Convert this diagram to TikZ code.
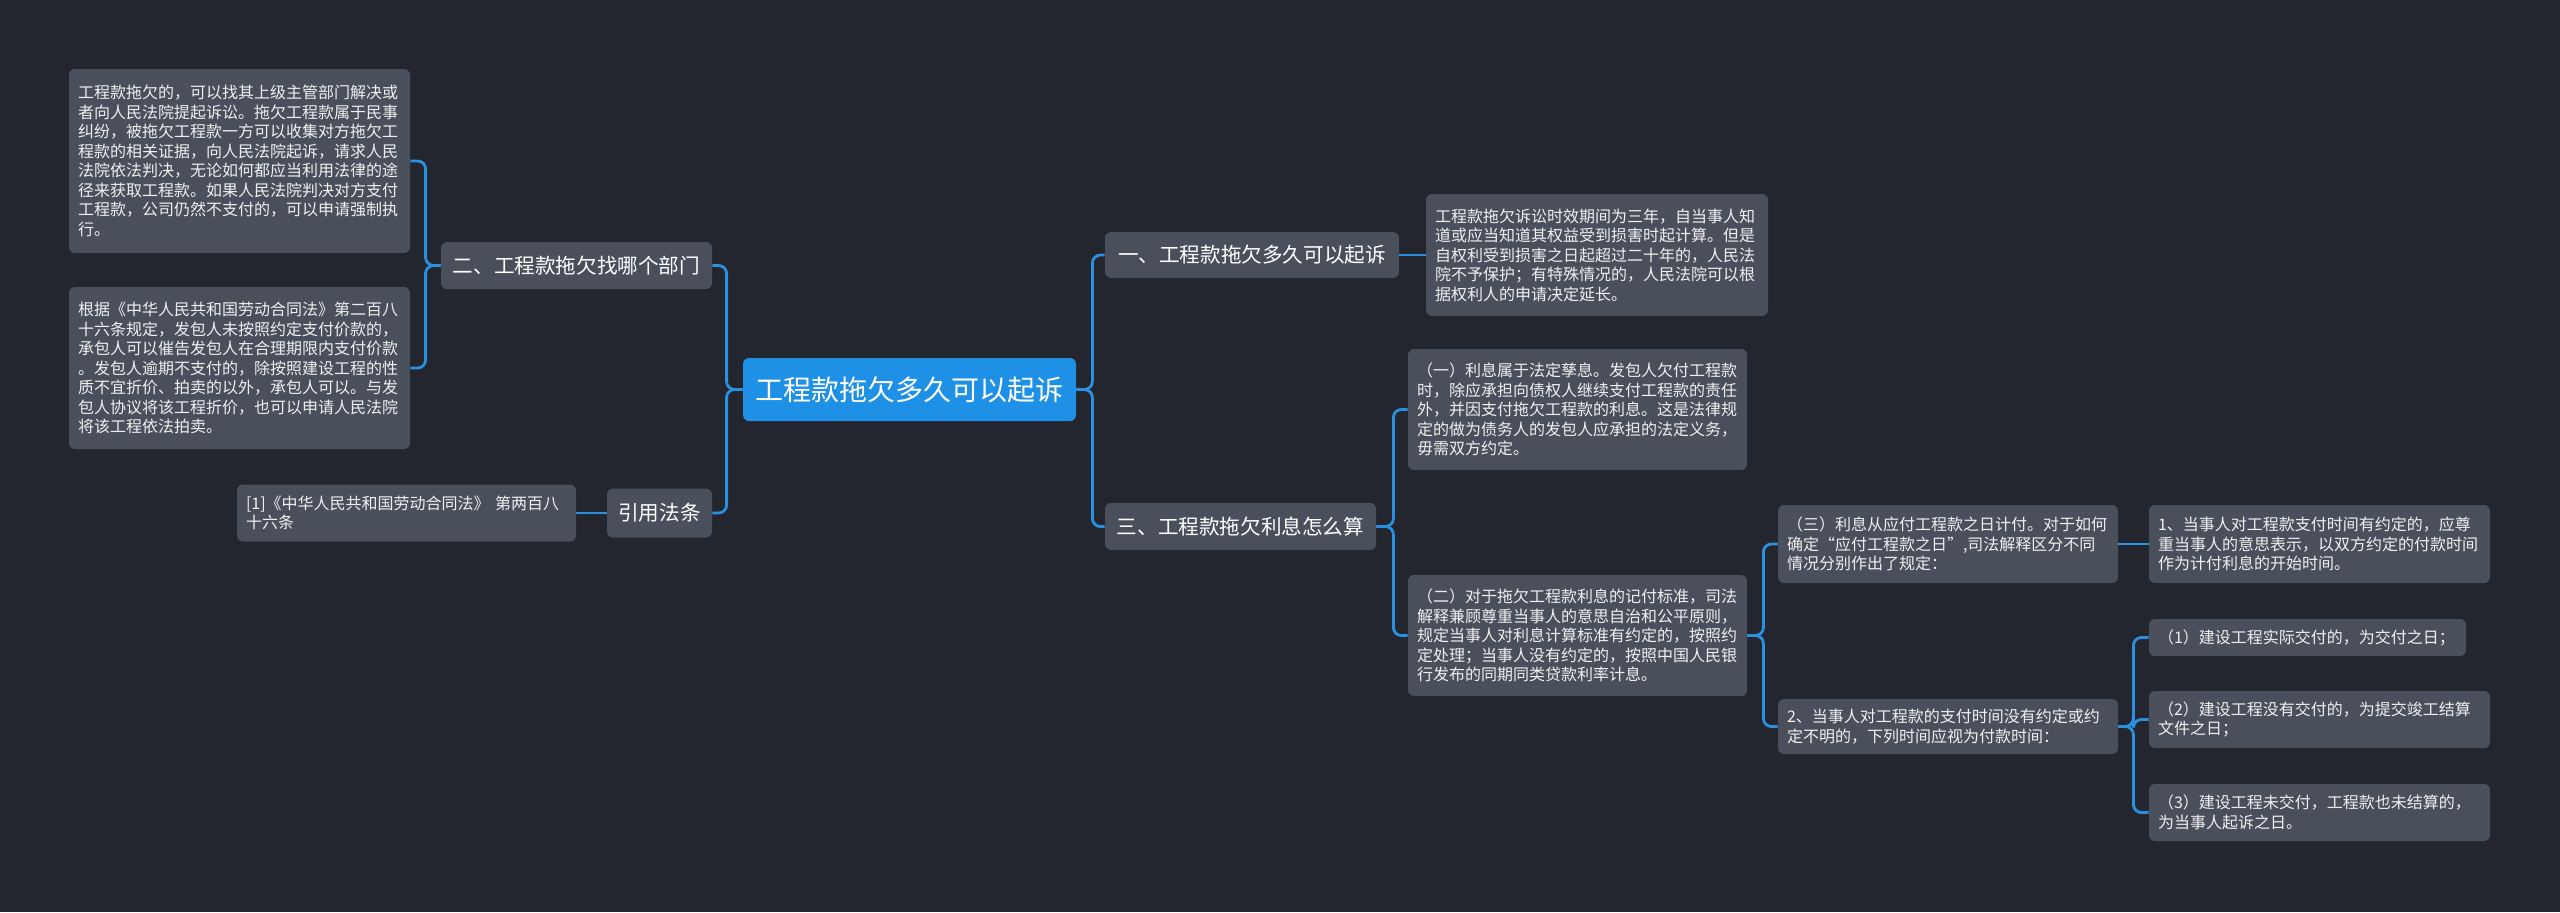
\documentclass[tikz,border=0pt]{standalone}
\usepackage{fontspec}
\setmainfont{Noto Sans CJK SC}
\definecolor{bg}{HTML}{23262F}
\definecolor{nodegray}{HTML}{4A4F5C}
\definecolor{rootblue}{HTML}{1E90E6}
\definecolor{linkblue}{HTML}{2A90E0}
\definecolor{txt}{HTML}{F0F0F0}
\begin{document}
\begin{tikzpicture}[x=0.5pt,y=-0.5pt]
\tikzset{
  sz/.style 2 args={minimum width={#1*0.5pt}, minimum height={#2*0.5pt}},
  box/.style={fill=nodegray, rounded corners=3pt, text=txt, align=left, inner xsep=4.5pt, inner ysep=1pt, font=\fontsize{8pt}{9.75pt}\selectfont},
  head/.style={fill=nodegray, rounded corners=3pt, text=white, align=center, inner sep=0pt, font=\fontsize{10.3pt}{12pt}\selectfont},
  rootbox/.style={fill=rootblue, rounded corners=3pt, text=white, align=center, inner sep=0pt, font=\fontsize{14pt}{16pt}\selectfont},
  conn/.style={draw=linkblue, line width=1.4pt, rounded corners=4pt},
}
\fill[bg] (0,0) rectangle (2560,912);
\useasboundingbox (0,0) rectangle (2560,912);

% root
\node[rootbox, sz={333}{63}] (root) at (909.5,389.5) {工程款拖欠多久可以起诉};

% left side
\node[head, sz={271}{47}] (n2) at (576.5,265.5) {二、工程款拖欠找哪个部门};
\node[head, sz={105}{49}] (yy) at (659.5,513) {引用法条};
\node[box, text width=161.5pt, minimum height=92pt] (t2a) at (239.5,161) {工程款拖欠的，可以找其上级主管部门解决或\\者向人民法院提起诉讼。拖欠工程款属于民事\\纠纷，被拖欠工程款一方可以收集对方拖欠工\\程款的相关证据，向人民法院起诉，请求人民\\法院依法判决，无论如何都应当利用法律的途\\径来获取工程款。如果人民法院判决对方支付\\工程款，公司仍然不支付的，可以申请强制执\\行。};
\node[box, text width=161.5pt, minimum height=81pt] (t2b) at (239.5,368) {根据《中华人民共和国劳动合同法》第二百八\\十六条规定，发包人未按照约定支付价款的，\\承包人可以催告发包人在合理期限内支付价款\\。发包人逾期不支付的，除按照建设工程的性\\质不宜折价、拍卖的以外，承包人可以。与发\\包人协议将该工程折价，也可以申请人民法院\\将该工程依法拍卖。};
\node[box, text width=160.5pt, minimum height=28.5pt] (cite) at (406.5,513) {[1]《中华人民共和国劳动合同法》 第两百八\\十六条};

% right side
\node[head, sz={294}{46}] (n1) at (1252,255) {一、工程款拖欠多久可以起诉};
\node[box, text width=162pt, minimum height=61pt] (t1) at (1597,255) {工程款拖欠诉讼时效期间为三年，自当事人知\\道或应当知道其权益受到损害时起计算。但是\\自权利受到损害之日起超过二十年的，人民法\\院不予保护；有特殊情况的，人民法院可以根\\据权利人的申请决定延长。};
\node[head, sz={271}{47}] (n3) at (1240.5,526.5) {三、工程款拖欠利息怎么算};
\node[box, text width=160.5pt, minimum height=60.5pt] (s1) at (1577.5,409.5) {（一）利息属于法定孳息。发包人欠付工程款\\时，除应承担向债权人继续支付工程款的责任\\外，并因支付拖欠工程款的利息。这是法律规\\定的做为债务人的发包人应承担的法定义务，\\毋需双方约定。};
\node[box, text width=160.5pt, minimum height=60.5pt] (s2) at (1577.5,635.5) {（二）对于拖欠工程款利息的记付标准，司法\\解释兼顾尊重当事人的意思自治和公平原则，\\规定当事人对利息计算标准有约定的，按照约\\定处理；当事人没有约定的，按照中国人民银\\行发布的同期同类贷款利率计息。};
\node[box, text width=161pt, minimum height=39pt] (s3) at (1948,544) {（三）利息从应付工程款之日计付。对于如何\\确定“应付工程款之日”,司法解释区分不同\\情况分别作出了规定：};
\node[box, text width=161pt, minimum height=27.5pt] (q2) at (1948,726.5) {2、当事人对工程款的支付时间没有约定或约\\定不明的，下列时间应视为付款时间：};
\node[box, text width=161.5pt, minimum height=39pt] (q1) at (2319.5,544) {1、当事人对工程款支付时间有约定的，应尊\\重当事人的意思表示，以双方约定的付款时间\\作为计付利息的开始时间。};
\node[box, text width=149.5pt, minimum height=18.5pt] (r1) at (2307.5,637.5) {（1）建设工程实际交付的，为交付之日；};
\node[box, text width=161.5pt, minimum height=28.5pt] (r2) at (2319.5,719.5) {（2）建设工程没有交付的，为提交竣工结算\\文件之日；};
\node[box, text width=161.5pt, minimum height=28.5pt] (r3) at (2319.5,812.5) {（3）建设工程未交付，工程款也未结算的，\\为当事人起诉之日。};

% connectors
\draw[conn] (root.west) -- ++(-16,0) |- (n2.east);
\draw[conn] (root.west) -- ++(-16,0) |- (yy.east);
\draw[conn] (n2.west) -- ++(-15,0) |- (t2a.east);
\draw[conn] (n2.west) -- ++(-15,0) |- (t2b.east);
\draw[conn] (yy.west) -- (cite.east);
\draw[conn] (root.east) -- ++(16,0) |- (n1.west);
\draw[conn] (root.east) -- ++(16,0) |- (n3.west);
\draw[conn] (n1.east) -- (t1.west);
\draw[conn] (n3.east) -- ++(17,0) |- (s1.west);
\draw[conn] (n3.east) -- ++(17,0) |- (s2.west);
\draw[conn] (s2.east) -- ++(16,0) |- (s3.west);
\draw[conn] (s2.east) -- ++(16,0) |- (q2.west);
\draw[conn] (s3.east) -- (q1.west);
\draw[conn] (q2.east) -- ++(15,0) |- (r1.west);
\draw[conn] (q2.east) -- ++(15,0) |- (r2.west);
\draw[conn] (q2.east) -- ++(15,0) |- (r3.west);
\end{tikzpicture}
\end{document}
